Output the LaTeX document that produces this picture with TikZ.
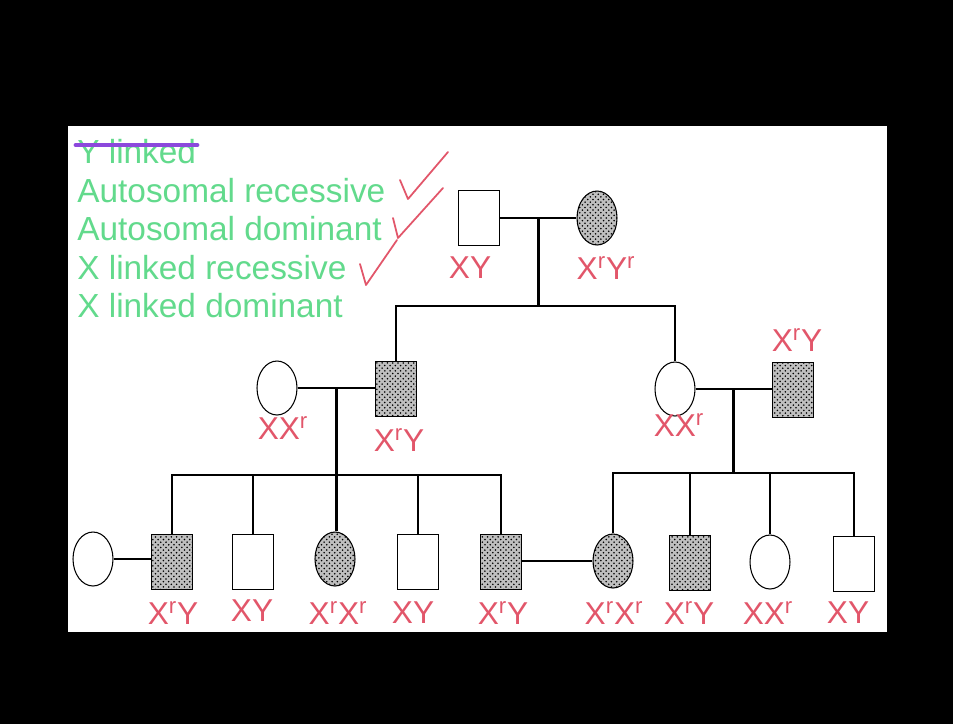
\documentclass[tikz,border=0pt]{standalone}
\usepackage{fontspec}
\setmainfont{Liberation Sans}
\usetikzlibrary{shapes.geometric,patterns,calc}
\definecolor{chalkgreen}{RGB}{98,218,140}
\definecolor{penred}{RGB}{226,86,106}
\definecolor{penpurple}{RGB}{140,72,220}
\newcommand{\gr}{\textsuperscript{r}}
\tikzset{
  male/.style={draw,rectangle,minimum width=0.82cm,minimum height=1.1cm,inner sep=0pt,line width=0.6pt},
  female/.style={draw,ellipse,minimum width=0.8cm,minimum height=1.08cm,inner sep=0pt,line width=0.6pt},
  affected/.style={preaction={fill=gray!50},pattern=crosshatch dots},
  geno/.style={text=penred,font=\fontsize{18}{20}\selectfont},
  choice/.style={text=chalkgreen,anchor=west,inner sep=0pt,font=\fontsize{19}{22}\selectfont},
  line/.style={line width=1.6pt},
  tick/.style={penred,line width=1pt,line cap=round,line join=round}
}

\begin{document}
\begin{tikzpicture}[x=0.02cm,y=-0.02cm]
        \fill[black] (0,0) rectangle (953,724);
        \fill[white] (68,126) rectangle (887,632);
        % list of modes of inheritance
        \node[choice] (yl) at (77,152) {Y linked};
        \node[choice] (ar) at (77,191) {Autosomal recessive};
        \node[choice] (ad) at (77,229) {Autosomal dominant};
        \node[choice] (xr) at (77,268) {X linked recessive};
        \node[choice] (xd) at (77,306) {X linked dominant};
        \draw[penpurple,line width=2.8pt,line cap=round] (76,145) -- (197,145);
        \draw[tick] (400,180) -- (408,199) -- (448,152);
        \draw[tick] (393,218) -- (398,238) -- (443,188);
        \draw[tick] (360,264) -- (366,285) -- (397,240);
        % generation I
        \node[male] (m1) at (479,218) {};
        \node[female,affected] (f1) at (597,218) {};
        % generation II
        \node[female] (f2) at (277,388) {};
        \node[male,affected] (m2) at (396,389) {};
        \node[female] (f3) at (675,389) {};
        \node[male,affected] (m3) at (793,390) {};
        % generation III
        \node[female] (f4) at (93,559) {};
        \node[male,affected] (m4) at (172,562) {};
        \node[male] (m5) at (253,562) {};
        \node[female,affected] (f5) at (335,559) {};
        \node[male] (m6) at (418,562) {};
        \node[male,affected] (m7) at (501,562) {};
        \node[female,affected] (f6) at (613,561) {};
        \node[male,affected] (m8) at (690,563) {};
        \node[female] (f7) at (770,562) {};
        \node[male] (m9) at (854,564) {};
        % matings and sibships
        \draw[line] (m1.east) -- (m1.east -| f1.west);
        \coordinate (c1) at ($(m1.east)!0.5!(m1.east -| f1.west)$);
        \coordinate (k1) at (c1 |- 0,306);
        \draw[line] (c1) -- (k1);
        \draw[line] (m2.north) |- (k1) -| (f3.north);
        \draw[line] (f2.east) -- (f2.east -| m2.west);
        \coordinate (c2) at ($(f2.east)!0.5!(f2.east -| m2.west)$);
        \coordinate (k2) at (c2 |- 0,475);
        \draw[line] (c2) -- (c2 |- f5.north);
        \draw[line] (m4.north) |- (k2) -| (m7.north);
        \draw[line] (m5.north) -- (m5.north |- k2);
        \draw[line] (m6.north) -- (m6.north |- k2);
        \draw[line] (f3.east) -- (f3.east -| m3.west);
        \coordinate (c3) at ($(f3.east)!0.5!(f3.east -| m3.west)$);
        \coordinate (k3) at (c3 |- 0,473);
        \draw[line] (c3) -- (k3);
        \draw[line] (f6.north) |- (k3) -| (m9.north);
        \draw[line] (m8.north) -- (m8.north |- k3);
        \draw[line] (f7.north) -- (f7.north |- k3);
        \draw[line] (f4.east) -- (f4.east -| m4.west);
        \draw[line] (m7.east |- f6.west) -- (f6.west);
        % genotypes
        \node[geno] (g1) at (470,268) {XY};
        \node[geno] (g2) at (606,268) {X\gr Y\gr};
        \node[geno] (g3) at (283,428) {XX\gr};
        \node[geno] (g4) at (399,440) {X\gr Y};
        \node[geno] (g5) at (679,425) {XX\gr};
        \node[geno] (g6) at (797,340) {X\gr Y};
        \node[geno] (g7) at (173,613) {X\gr Y};
        \node[geno] (g8) at (252,611) {XY};
        \node[geno] (g9) at (338,613) {X\gr X\gr};
        \node[geno] (g10) at (413,613) {XY};
        \node[geno] (g11) at (503,613) {X\gr Y};
        \node[geno] (g12) at (614,613) {X\gr X\gr};
        \node[geno] (g13) at (689,613) {X\gr Y};
        \node[geno] (g14) at (768,613) {XX\gr};
        \node[geno] (g15) at (848,613) {XY};
\end{tikzpicture}
\end{document}
